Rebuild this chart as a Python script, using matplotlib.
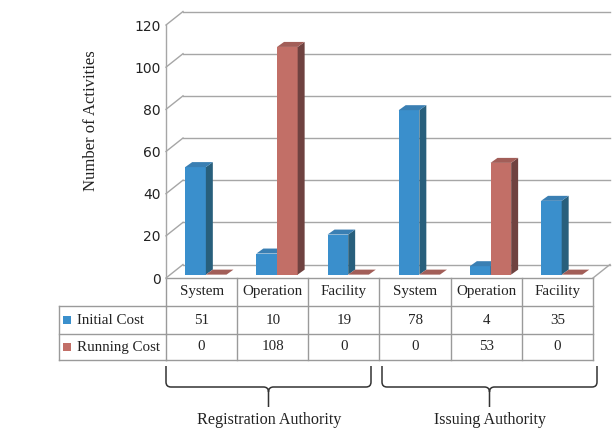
import numpy as np
import matplotlib.pyplot as plt
from matplotlib.patches import Polygon, PathPatch
from matplotlib.path import Path
from matplotlib.transforms import blended_transform_factory

# Daten
kategorien = ['System', 'Operation', 'Facility', 'System', 'Operation', 'Facility']
gruppen = ['Registration Authority', 'Issuing Authority']
serien = ['Initial Cost', 'Running Cost']
initial_cost = [51, 10, 19, 78, 4, 35]
running_cost = [0, 108, 0, 0, 53, 0]
y_ticks = [0, 20, 40, 60, 80, 100, 120]

# Farben: Vorderseite, Seite, Oberseite
farben = {
    'Initial Cost': ('#3A8FCC', '#285F7C', '#3A7FB3'),
    'Running Cost': ('#C26F67', '#6F4240', '#A25E58'),
}
gitter = '#A6A6A6'
tabelle = '#9A9A9A'
serif = 'Liberation Serif'

fig = plt.figure(figsize=(6.12, 4.30), dpi=100)
W, H = 612, 430

# Hilfsachse in Pixelkoordinaten (Tabelle, Klammern, Beschriftung)
ax2 = fig.add_axes([0, 0, 1, 1])
ax2.set_xlim(0, W)
ax2.set_ylim(H, 0)
ax2.axis('off')

# Datenachse (vordere Ebene des 3D-Diagramms)
x_links, x_rechts, y_null, y_oben = 166, 593, 278, 25
ax = fig.add_axes([x_links / W, (H - y_null) / H, (x_rechts - x_links) / W, (y_null - y_oben) / H])
ax.set_xlim(-0.5, len(kategorien) - 0.5)
ax.set_ylim(0, 120)
for s in ax.spines.values():
    s.set_visible(False)
ax.set_xticks([])
ax.set_yticks(y_ticks)
ax.set_yticklabels([str(t) for t in y_ticks], fontsize=10, family='DejaVu Sans', color='#222222')
ax.tick_params(axis='y', length=0, pad=4)
ax.patch.set_visible(False)

# Tiefe der Wände und Balken (in Dateneinheiten)
ddx, ddy = 0.239, 6.4
bdx, bdy = 0.098, 2.37
basis = 1.6
breite = 0.29
x0, x1 = -0.5, len(kategorien) - 0.5

# Gitterlinien auf Rückwand und linker Wand
for t in y_ticks:
    ax.plot([x0 + ddx, x1 + ddx], [t + ddy, t + ddy], color=gitter, lw=1.0, clip_on=False, zorder=1)
    ax.plot([x0, x0 + ddx], [t, t + ddy], color=gitter, lw=1.0, clip_on=False, zorder=1)
ax.plot([x0, x0], [0, 120], color=gitter, lw=1.0, clip_on=False, zorder=1)
ax.plot([x1, x1 + ddx], [0, ddy], color=gitter, lw=1.0, clip_on=False, zorder=1)


def balken(x, h, name, z):
    front, seite, oben = farben[name]
    y0, y1 = basis, basis + h
    ax.add_patch(Polygon([(x, y0), (x + breite, y0), (x + breite, y1), (x, y1)],
                         closed=True, fc=front, ec='none', zorder=z, clip_on=False))
    ax.add_patch(Polygon([(x + breite, y0), (x + breite + bdx, y0 + bdy),
                          (x + breite + bdx, y1 + bdy), (x + breite, y1)],
                         closed=True, fc=seite, ec='none', zorder=z, clip_on=False))
    ax.add_patch(Polygon([(x, y1), (x + breite, y1), (x + breite + bdx, y1 + bdy), (x + bdx, y1 + bdy)],
                         closed=True, fc=oben, ec='none', zorder=z, clip_on=False))


for i in range(len(kategorien)):
    balken(i - 0.23, initial_cost[i], 'Initial Cost', 3 + i * 2)
    balken(i - 0.23 + breite, running_cost[i], 'Running Cost', 4 + i * 2)

# Tabelle unter dem Diagramm
tr = blended_transform_factory(ax.transData, ax2.transData)
y_kopf, y_r1, y_r2, y_ende = 278, 306, 334, 360
x_lab = 59
ax2.plot([x0, x1], [y_kopf, y_kopf], color=tabelle, lw=1.0, transform=tr)
for yy in [y_r1, y_r2, y_ende]:
    ax2.plot([x_lab, x_links], [yy, yy], color=tabelle, lw=1.0)
    ax2.plot([x0, x1], [yy, yy], color=tabelle, lw=1.0, transform=tr)
ax2.plot([x_lab, x_lab], [y_r1, y_ende], color=tabelle, lw=1.0)
for k in range(len(kategorien) + 1):
    ax2.plot([k - 0.5, k - 0.5], [y_kopf, y_ende], color=tabelle, lw=1.0, transform=tr)

for i, kat in enumerate(kategorien):
    ax2.text(i, (y_kopf + y_r1) / 2, kat, transform=tr, ha='center', va='center',
             fontsize=10.8, family=serif, color='#222222')
    ax2.text(i, (y_r1 + y_r2) / 2, str(initial_cost[i]), transform=tr, ha='center', va='center',
             fontsize=10.8, family=serif, color='#222222')
    ax2.text(i, (y_r2 + y_ende) / 2, str(running_cost[i]), transform=tr, ha='center', va='center',
             fontsize=10.8, family=serif, color='#222222')

for j, name in enumerate(serien):
    yc = (y_r1 + y_r2) / 2 if j == 0 else (y_r2 + y_ende) / 2
    ax2.add_patch(plt.Rectangle((63, yc - 4), 8, 8, fc=farben[name][0], ec='none'))
    ax2.text(77, yc, name, ha='left', va='center', fontsize=10.8, family=serif, color='#222222')


# Geschweifte Klammern für die Gruppen
def klammer(xa, xb, yt=366, ym=387, ys=407, r=5):
    xm = (xa + xb) / 2
    verts = [(xa, yt), (xa, ym - r), (xa, ym), (xa + r, ym), (xm - r, ym), (xm, ym), (xm, ym + r),
             (xm, ys), (xm, ym + r), (xm, ym), (xm + r, ym), (xb - r, ym), (xb, ym), (xb, ym - r), (xb, yt)]
    codes = [Path.MOVETO, Path.LINETO, Path.CURVE3, Path.CURVE3, Path.LINETO, Path.CURVE3, Path.CURVE3,
             Path.LINETO, Path.MOVETO, Path.CURVE3, Path.CURVE3, Path.LINETO, Path.CURVE3, Path.CURVE3,
             Path.LINETO]
    ax2.add_patch(PathPatch(Path(verts, codes), fc='none', ec='#333333', lw=1.1))
    return xm


brace_px = [(166, 371), (382, 597)]
for (xa, xb), g in zip(brace_px, gruppen):
    xm = klammer(xa, xb)
    ax2.text(xm + 1, 420, g, ha='center', va='center', fontsize=11.6, family=serif, color='#222222')

# Achsenbeschriftung
ax2.text(91, 121, 'Number of Activities', rotation=90, ha='center', va='center',
         fontsize=12, family=serif, color='#222222')

fig.savefig('out.png', dpi=100)
